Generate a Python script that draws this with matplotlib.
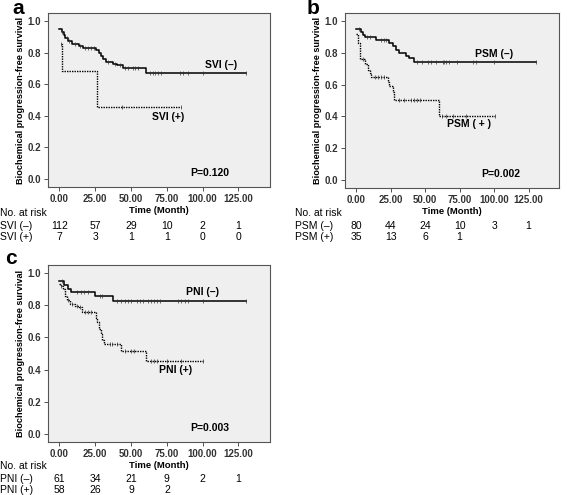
import numpy as np
import matplotlib
matplotlib.use("Agg")
import matplotlib.pyplot as plt
from matplotlib.transforms import blended_transform_factory

plt.rcParams['font.family'] = ['Liberation Sans', 'DejaVu Sans']

# ---- panel a : SVI ----
svi_neg_t = [0, 2, 3, 4.2, 6.3, 9.1, 13.3, 16.2, 25.3, 27.4, 29.0, 30.5, 32.3, 37.2, 40.0, 44.2, 60.4, 130]
svi_neg_s = [0.95, 0.93, 0.91, 0.89, 0.87, 0.855, 0.84, 0.827, 0.816, 0.80, 0.78, 0.76, 0.74, 0.73, 0.72, 0.70, 0.67, 0.67]
svi_neg_c = [2, 5, 7, 11, 14, 18, 20, 22, 24, 34, 39, 42, 46, 48, 51, 53, 55, 63, 65, 67, 69, 71, 84, 86, 90, 100, 130]
svi_pos_t = [1, 2, 26.5, 85]
svi_pos_s = [0.857, 0.686, 0.457, 0.457]
svi_pos_c = [1, 44, 85]

# ---- panel b : PSM ----
psm_neg_t = [0, 3.8, 5, 6.2, 14.6, 24.2, 26.6, 29, 31.4, 36.2, 38.6, 42.2, 130]
psm_neg_s = [0.95, 0.93, 0.91, 0.90, 0.88, 0.86, 0.84, 0.82, 0.80, 0.78, 0.77, 0.745, 0.745]
psm_neg_c = [2, 8, 10, 18, 20, 22, 44, 48, 52, 54, 58, 63, 64, 65, 67, 73, 85, 87, 100, 130]
psm_pos_t = [0, 1.4, 2.6, 6.2, 8.6, 9.8, 11, 23, 24.2, 26.6, 27.3, 60, 101]
psm_pos_s = [0.92, 0.86, 0.76, 0.73, 0.69, 0.67, 0.645, 0.615, 0.59, 0.555, 0.505, 0.405, 0.405]
psm_pos_c = [5, 14, 16, 18, 20, 31, 35, 40, 42, 44, 46, 62, 65, 70, 80, 101]

# ---- panel c : PNI ----
pni_neg_t = [0, 3.5, 6, 8, 24.5, 37.5, 130]
pni_neg_s = [0.95, 0.925, 0.90, 0.88, 0.857, 0.825, 0.825]
pni_neg_c = [2, 12, 15, 17, 20, 28, 30, 40, 43, 46, 48, 50, 54, 56, 58, 62, 64, 66, 68, 70, 83, 85, 88, 90, 100, 130]
pni_pos_t = [0, 1, 2.8, 4, 5.2, 7.5, 11, 13.5, 16, 25.3, 26.5, 27.6, 28.8, 30, 31.1, 42.8, 60.3, 100]
pni_pos_s = [0.93, 0.92, 0.90, 0.86, 0.83, 0.81, 0.795, 0.788, 0.755, 0.72, 0.693, 0.65, 0.62, 0.587, 0.56, 0.518, 0.453, 0.453]
pni_pos_c = [1, 6, 9, 12, 14, 18, 20, 22, 35, 37, 40, 46, 50, 52, 64, 66, 68, 75, 85, 100]

risk_times = [0, 25, 50, 75, 100, 125]
svi_neg_risk = ['112', '57', '29', '10', '2', '1']
svi_pos_risk = ['7', '3', '1', '1', '0', '0']
psm_neg_risk = ['80', '44', '24', '10', '3', '1']
psm_pos_risk = ['35', '13', '6', '1', '', '']
pni_neg_risk = ['61', '34', '21', '9', '2', '1']
pni_pos_risk = ['58', '26', '9', '2', '', '']

W, H = 567, 495
fig = plt.figure(figsize=(W / 100, H / 100), dpi=100)


def fx(px):
    return px / W


def fy(py):
    return 1 - py / H


def km(ax, t, s, cens, ls):
    ax.step(t, s, where='post', color='black', lw=1.1 if ls == '-' else 1.0, ls=ls)
    t = np.asarray(t)
    s = np.asarray(s)
    idx = np.searchsorted(t, cens, side='right') - 1
    ax.plot(cens, s[idx], ls='none', marker='|', ms=2.5, mew=0.5, color='#333333')


def panel(box, letter, letter_xy, neg, pos, neg_lab, pos_lab, p_text, risk, rows):
    l, t, r, b = box
    ax = fig.add_axes([fx(l), fy(b), fx(r - l), (b - t) / H])
    ax.set_facecolor('#efefef')
    km(ax, *neg, '-')
    km(ax, *pos, (0, (1, 0.8)))
    ax.set_xlim(-8, 147)
    ax.set_ylim(-0.05, 1.05)
    ax.set_xticks(risk_times)
    ax.set_xticklabels(['%.2f' % v for v in risk_times])
    ax.set_yticks(np.arange(0, 1.01, 0.2))
    ax.set_yticklabels(['%.1f' % v for v in np.arange(0, 1.01, 0.2)])
    for lab in ax.get_xticklabels() + ax.get_yticklabels():
        lab.set_fontweight('bold')
        lab.set_fontsize(7)
    ax.tick_params(length=3, width=0.6, pad=2, colors='#333333')
    for sp in ax.spines.values():
        sp.set_color('#555555')
        sp.set_linewidth(0.8)
    ax.set_xlabel('Time (Month)', fontsize=6.8, fontweight='bold', labelpad=1.5)
    ax.set_ylabel('Biochemical progression-free survival', fontsize=6.6,
                  fontweight='bold', labelpad=2)
    ax.text(*neg_lab[1], neg_lab[0], fontsize=7.5, fontweight='bold', ha='center', va='center')
    ax.text(*pos_lab[1], pos_lab[0], fontsize=7.5, fontweight='bold', ha='center', va='center')
    ax.text(105, 0.04, p_text, fontsize=7.5, fontweight='bold', ha='center', va='center')
    fig.text(fx(letter_xy[0]), fy(letter_xy[1]), letter, fontsize=15,
             fontweight='bold', ha='left', va='center')

    # number at risk table
    tr = blended_transform_factory(ax.transData, fig.transFigure)
    x0, y0 = rows['x'], rows['y']
    fig.text(fx(x0), fy(y0), 'No. at risk', fontsize=7.5, va='center')
    for k, (name, vals) in enumerate(risk):
        yy = fy(y0 + 13 + 11 * k)
        fig.text(fx(x0), yy, name, fontsize=7.5, va='center')
        for tt, v in zip(risk_times, vals):
            ax.text(tt, yy, v, transform=tr, fontsize=7.5, ha='center', va='center')
    return ax


panel((48, 13, 270, 187), 'a', (12, 8),
      (svi_neg_t, svi_neg_s, svi_neg_c), (svi_pos_t, svi_pos_s, svi_pos_c),
      ('SVI (–)', (113, 0.72)), ('SVI (+)', (76, 0.39)), 'P=0.120',
      [('SVI (–)', svi_neg_risk), ('SVI (+)', svi_pos_risk)],
      {'x': 0, 'y': 213})

panel((345, 13, 559, 188), 'b', (307, 8),
      (psm_neg_t, psm_neg_s, psm_neg_c), (psm_pos_t, psm_pos_s, psm_pos_c),
      ('PSM (–)', (100, 0.79)), ('PSM ( + )', (82, 0.35)), 'P=0.002',
      [('PSM (–)', psm_neg_risk), ('PSM (+)', psm_pos_risk)],
      {'x': 295, 'y': 213})

panel((48, 265, 270, 442), 'c', (5, 258),
      (pni_neg_t, pni_neg_s, pni_neg_c), (pni_pos_t, pni_pos_s, pni_pos_c),
      ('PNI (–)', (100, 0.88)), ('PNI (+)', (81, 0.40)), 'P=0.003',
      [('PNI (–)', pni_neg_risk), ('PNI (+)', pni_pos_risk)],
      {'x': 0, 'y': 466})

fig.savefig('out.png', dpi=100)
